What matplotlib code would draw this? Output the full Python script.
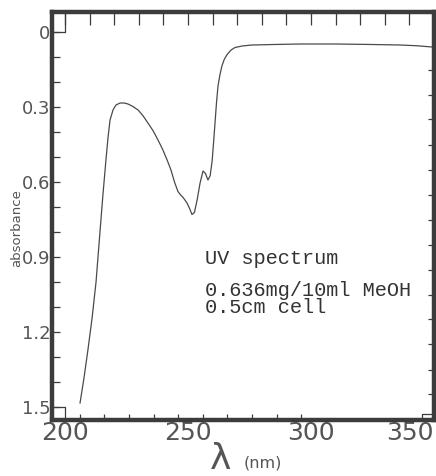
import matplotlib.pyplot as plt
import numpy as np

# UV absorbance trace, wavelength (nm) vs absorbance
wavelength = [206.1, 207.7, 209.3, 211.0, 212.6, 214.2, 215.4, 216.7, 217.5, 218.3,
              219.5, 220.7, 222.4, 224.0, 225.6, 227.6, 229.7, 231.7, 233.7, 235.8,
              237.8, 239.7, 241.5, 243.0, 244.5, 245.9, 247.0, 248.0, 249.6, 250.6,
              251.6, 252.6, 253.7, 254.9, 256.1, 257.1, 258.1, 259.0, 259.8, 260.4,
              261.0, 261.6, 262.2, 263.0, 263.8, 264.8, 265.9, 267.5, 269.1, 272.0,
              276.0, 285.0, 295.5, 310.0, 325.0, 336.2, 343.0, 349.2]
absorbance = [1.484, 1.384, 1.272, 1.144, 1.0, 0.80, 0.652, 0.504, 0.42, 0.352,
              0.312, 0.292, 0.284, 0.284, 0.288, 0.298, 0.312, 0.335, 0.364, 0.395,
              0.432, 0.47, 0.512, 0.55, 0.6, 0.638, 0.652, 0.662, 0.684, 0.705,
              0.73, 0.722, 0.672, 0.604, 0.556, 0.566, 0.592, 0.575, 0.516, 0.44,
              0.36, 0.28, 0.215, 0.17, 0.135, 0.108, 0.09, 0.072, 0.062, 0.056,
              0.052, 0.05, 0.048, 0.048, 0.05, 0.052, 0.055, 0.06]

x_ticks = [200, 250, 300, 350]
y_ticks = [0, 0.3, 0.6, 0.9, 1.2, 1.5]
y_tick_labels = ['0', '0.3', '0.6', '0.9', '1.2', '1.5']

ink = '#3c3c3c'
grey = '#555555'

fig = plt.figure(figsize=(4.36, 4.76), dpi=100)
fig.patch.set_facecolor('white')
ax = fig.add_axes([52 / 436, 56 / 476, 382 / 436, 408 / 476])

ax.plot(wavelength, absorbance, color='#4a4a4a', lw=0.9)

ax.set_xlim(194.7, 350.0)
ax.set_ylim(1.552, -0.08)

for s in ax.spines.values():
    s.set_color(ink)
    s.set_linewidth(3.2)

# labelled ticks
ax.set_xticks(x_ticks)
ax.set_xticklabels([str(v) for v in x_ticks], fontsize=18, color=grey)
ax.set_yticks(y_ticks)
ax.set_yticklabels(y_tick_labels, fontsize=13, color=grey)
ax.tick_params(axis='x', which='major', length=0, pad=1)
ax.tick_params(axis='y', which='major', direction='in', length=6, width=0.9,
               color=ink, pad=1)
ax.get_xticklabels()[-1].set_horizontalalignment('right')

# minor ticks: left every 0.1, bottom offset ticks
ax.set_yticks(np.arange(0.1, 1.45, 0.1), minor=True)
ax.tick_params(axis='y', which='minor', direction='in', length=6, width=0.9,
               color=ink)
ax.set_xticks(np.arange(206, 300, 10), minor=True)
ax.tick_params(axis='x', which='minor', direction='in', length=4, width=0.9,
               color=ink)

# top ticks every 10 nm
top = ax.secondary_xaxis('top')
top.set_xticks(np.arange(200, 351, 10))
top.tick_params(direction='in', length=9, width=0.9, color=ink, labeltop=False)
top.spines['top'].set_visible(False)

# right ticks
right = ax.secondary_yaxis('right')
right.set_yticks(np.arange(0.15, 1.5, 0.1))
right.tick_params(direction='in', length=4.5, width=0.9, color=ink, labelright=False)
right.spines['right'].set_visible(False)

# small corner boxes
x0, x1 = ax.get_xlim()
y0, y1 = ax.get_ylim()
ax.plot([x0, 200, 200], [0, 0, y1], color=ink, lw=0.9)
ax.plot([x0, 200, 200], [1.5, 1.5, y0], color=ink, lw=0.9)
ax.plot([345, 345, x1], [y0, 1.53, 1.53], color=ink, lw=0.9)

ax.set_ylabel('absorbance', fontsize=9.5, color=grey)
ax.yaxis.set_label_coords(-0.076, 0.47)

fig.text(221 / 436, 0, 'λ', fontsize=26, color=grey, ha='center', va='bottom')
fig.text(244 / 436, 6 / 476, '(nm)', fontsize=11.5, color=grey, ha='left', va='bottom')

mono = 'Liberation Mono'
ax.text(257.0, 0.93, 'UV spectrum', family=mono, fontsize=14.6, color='#333333')
ax.text(257.0, 1.054, '0.636mg/10ml MeOH', family=mono, fontsize=14.6, color='#333333')
ax.text(257.0, 1.124, '0.5cm cell', family=mono, fontsize=14.6, color='#333333')

fig.savefig('out.png', dpi=100)
